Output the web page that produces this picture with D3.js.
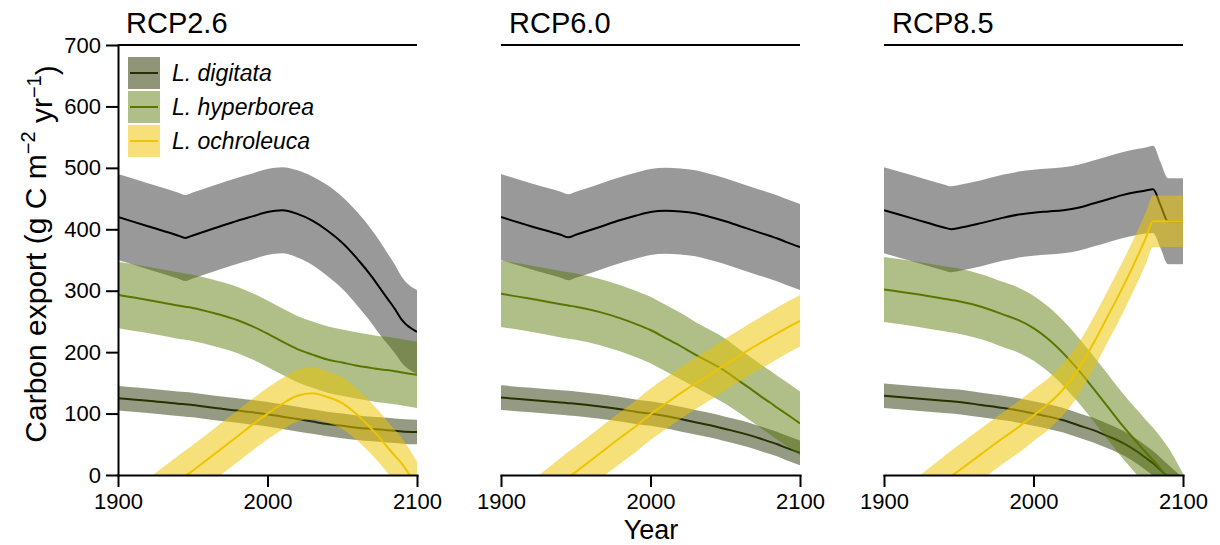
<!DOCTYPE html>
<html>
<head>
<meta charset="utf-8">
<script src="https://cdn.jsdelivr.net/npm/d3@7"></script>
<style>
  body { margin: 0; background: #fff; }
  svg text { font-family: "Liberation Sans", Arial, Helvetica, sans-serif; fill: #000; }
</style>
</head>
<body>
<div id="chart"></div>
<script>
(function(d3) {
  'use strict';

  // ---- data ----
  var years = [1900, 1920, 1940, 1945, 1950, 1965, 1980, 1990, 2000, 2010, 2020, 2030, 2040, 2050, 2060, 2070, 2075, 2080, 2085, 2090, 2100];
  var scenarios = ['RCP2.6', 'RCP6.0', 'RCP8.5'];
  var speciesNames = ['L. digitata', 'L. hyperborea', 'L. ochroleuca'];
  var xTicks = [1900, 2000, 2100];
  var yTicks = [0, 100, 200, 300, 400, 500, 600, 700];

  // RCP2.6
  var rcp26Total      = [420, 405, 390, 386, 390, 402, 414, 421, 428, 431, 425, 414, 398, 378, 352, 322, 305, 288, 271, 252, 233];
  var rcp26TotalCi    = [70, 70, 70, 70, 70, 70, 70, 70, 70, 70, 71, 72, 74, 75, 76, 76, 76, 74, 72, 70, 68];
  var rcp26Digitata   = [125, 121, 116, 115, 114, 109, 105, 102, 99, 95, 91, 87, 83, 80, 77, 75, 74, 73, 72, 71, 70];
  var rcp26DigitataCi = [20, 20, 20, 20, 20, 20, 20, 20, 20, 20, 20, 20, 20, 20, 20, 20, 20, 20, 20, 20, 20];
  var rcp26Hyper      = [293, 285, 276, 274, 272, 263, 252, 242, 230, 217, 205, 196, 188, 183, 178, 174, 172, 171, 169, 167, 163];
  var rcp26HyperCi    = [54, 54, 54, 54, 54, 54, 54, 54, 54, 54, 54, 54, 54, 54, 54, 54, 54, 54, 54, 54, 54];
  var rcp26Ochro      = [-85, -48, -11, -2, 7, 35, 63, 82, 100, 116, 129, 133, 127, 117, 98, 74, 61, 46, 32, 18, -20];
  var rcp26OchroCi    = [42, 42, 42, 42, 42, 42, 42, 42, 42, 42, 42, 42, 42, 42, 42, 42, 42, 42, 42, 42, 42];

  // RCP6.0
  var rcp60Total      = [420, 405, 391, 387, 391, 403, 415, 422, 428, 430, 429, 426, 420, 413, 405, 397, 393, 389, 385, 380, 371];
  var rcp60TotalCi    = [70, 70, 70, 70, 70, 70, 70, 70, 70, 70, 70, 70, 70, 70, 70, 70, 70, 70, 70, 70, 70];
  var rcp60Digitata   = [126, 122, 118, 117, 116, 112, 107, 103, 100, 96, 91, 86, 81, 75, 69, 62, 58, 54, 50, 45, 36];
  var rcp60DigitataCi = [20, 20, 20, 20, 20, 20, 20, 20, 20, 20, 20, 20, 20, 20, 20, 20, 20, 20, 20, 20, 20];
  var rcp60Hyper      = [295, 287, 278, 276, 274, 266, 255, 246, 236, 223, 210, 196, 183, 169, 152, 135, 126, 118, 109, 101, 84];
  var rcp60HyperCi    = [54, 54, 54, 54, 54, 54, 54, 54, 54, 54, 54, 53, 53, 53, 52, 52, 52, 52, 52, 52, 52];
  var rcp60Ochro      = [-90, -52, -14, -4, 5, 33, 61, 79, 99, 116, 133, 149, 164, 180, 195, 210, 217, 224, 231, 238, 251];
  var rcp60OchroCi    = [42, 42, 42, 42, 42, 42, 42, 42, 42, 42, 42, 42, 42, 42, 42, 42, 42, 42, 42, 42, 42];

  // RCP8.5
  var rcp85Total      = [431, 417, 403, 400, 402, 410, 419, 424, 427, 429, 431, 435, 442, 449, 456, 461, 463, 465, 439, 413, 413];
  var rcp85TotalCi    = [70, 70, 70, 70, 70, 70, 70, 70, 70, 70, 70, 70, 70, 70, 70, 70, 70, 71, 70, 70, 70];
  var rcp85Digitata   = [129, 125, 121, 120, 119, 114, 109, 105, 100, 95, 89, 81, 73, 63, 52, 37, 28, 19, 8, -3, -25];
  var rcp85DigitataCi = [20, 20, 20, 20, 20, 20, 20, 20, 20, 20, 20, 20, 20, 20, 20, 20, 20, 20, 20, 20, 20];
  var rcp85Hyper      = [302, 295, 287, 285, 283, 274, 261, 252, 239, 221, 198, 171, 141, 110, 79, 51, 37, 24, 10, -5, -45];
  var rcp85HyperCi    = [53, 53, 53, 53, 53, 53, 53, 53, 53, 53, 53, 53, 53, 53, 53, 53, 53, 53, 52, 50, 47];
  var rcp85Ochro      = [-88, -50, -12, -2, 7, 34, 61, 78, 97, 116, 140, 172, 214, 260, 307, 358, 385, 413, 413, 413, 413];
  var rcp85OchroCi    = [42, 42, 42, 42, 42, 42, 42, 42, 42, 42, 42, 42, 42, 42, 42, 42, 42, 42, 42, 42, 42];

  // line colour, band colour for total + 3 species
  var lineColors = ['#000000', '#263000', '#577700', '#ecc400'];
  var bandColors = ['rgba(0,0,0,0.4)', 'rgba(38,48,0,0.49)', 'rgba(87,119,0,0.47)', 'rgba(236,196,0,0.52)'];
  var legendColors = ['#909478', '#b0bf88', '#f7e07a'];

  var panels = [
    { name: scenarios[0], series: [[rcp26Total, rcp26TotalCi], [rcp26Digitata, rcp26DigitataCi], [rcp26Hyper, rcp26HyperCi], [rcp26Ochro, rcp26OchroCi]] },
    { name: scenarios[1], series: [[rcp60Total, rcp60TotalCi], [rcp60Digitata, rcp60DigitataCi], [rcp60Hyper, rcp60HyperCi], [rcp60Ochro, rcp60OchroCi]] },
    { name: scenarios[2], series: [[rcp85Total, rcp85TotalCi], [rcp85Digitata, rcp85DigitataCi], [rcp85Hyper, rcp85HyperCi], [rcp85Ochro, rcp85OchroCi]] }
  ];

  // ---- layout ----
  var width = 1220, height = 545;
  var left = 118, top = 45;
  var panelW = 299, panelH = 430, panelStep = 383;

  var svg = d3.select('#chart').append('svg')
    .attr('width', width)
    .attr('height', height);

  var x = d3.scaleLinear().domain([1900, 2100]).range([0, panelW]);
  var y = d3.scaleLinear().domain([0, 700]).range([panelH, 0]);

  var area = d3.area()
    .curve(d3.curveMonotoneX)
    .x(function(d) { return x(d.year); })
    .y0(function(d) { return y(d.lo); })
    .y1(function(d) { return y(d.hi); });

  var line = d3.line()
    .curve(d3.curveMonotoneX)
    .x(function(d) { return x(d.year); })
    .y(function(d) { return y(d.mean); });

  panels.forEach(function(p, pi) {
    var g = svg.append('g')
      .attr('transform', 'translate(' + (left + pi * panelStep) + ',' + top + ')');

    var clipId = 'clip' + pi;
    g.append('clipPath').attr('id', clipId)
      .append('rect')
      .attr('width', panelW)
      .attr('height', panelH);

    var plot = g.append('g').attr('clip-path', 'url(#' + clipId + ')');

    p.series.forEach(function(s, si) {
      var pts = years.map(function(yr, i) {
        return { year: yr, mean: s[0][i], lo: s[0][i] - s[1][i], hi: s[0][i] + s[1][i] };
      });
      plot.append('path')
        .datum(pts)
        .attr('d', area)
        .attr('fill', bandColors[si]);
      plot.append('path')
        .datum(pts)
        .attr('d', line)
        .attr('fill', 'none')
        .attr('stroke', lineColors[si])
        .attr('stroke-width', 2);
    });

    // top rule
    g.append('line')
      .attr('x1', 0).attr('x2', panelW)
      .attr('y1', 0).attr('y2', 0)
      .attr('stroke', '#000')
      .attr('stroke-width', 2);

    // x axis
    var xa = g.append('g')
      .attr('transform', 'translate(0,' + panelH + ')')
      .call(d3.axisBottom(x).tickValues(xTicks).tickFormat(d3.format('d'))
        .tickSize(12).tickSizeOuter(0).tickPadding(6));
    xa.selectAll('text').style('font-size', '22px');

    if (pi === 0) {
      var ya = g.append('g')
        .call(d3.axisLeft(y).tickValues(yTicks).tickSize(12).tickSizeOuter(0).tickPadding(5));
      ya.selectAll('text').style('font-size', '22px');
      ya.selectAll('path, line').attr('stroke-width', 2);
    }
    xa.selectAll('path, line').attr('stroke-width', 2);
    g.selectAll('.domain').attr('stroke-linecap', 'square');

    // panel title
    g.append('text')
      .attr('x', 8)
      .attr('y', -12)
      .style('font-size', '29px')
      .text(p.name);
  });

  // legend
  var legend = svg.append('g')
    .attr('transform', 'translate(128,57)');

  var item = legend.selectAll('.legend')
    .data(speciesNames)
    .enter()
    .append('g')
    .attr('class', 'legend')
    .attr('transform', function(d, i) { return 'translate(0,' + (i * 34) + ')'; });

  item.append('rect')
    .attr('width', 32)
    .attr('height', 32)
    .attr('fill', function(d, i) { return legendColors[i]; });

  item.append('line')
    .attr('x1', 2).attr('x2', 30)
    .attr('y1', 16).attr('y2', 16)
    .attr('stroke', function(d, i) { return lineColors[i + 1]; })
    .attr('stroke-width', 2);

  item.append('text')
    .attr('x', 44)
    .attr('y', 24)
    .style('font-size', '23px')
    .style('font-style', 'italic')
    .text(function(d) { return d; });

  // axis titles
  var yLabel = svg.append('text')
    .attr('transform', 'translate(46,254) rotate(-90)')
    .attr('text-anchor', 'middle')
    .style('font-size', '30px');
  yLabel.append('tspan').text('Carbon export (g C m');
  yLabel.append('tspan').attr('dy', '-0.55em').style('font-size', '20px').text('\u22122');
  yLabel.append('tspan').attr('dy', '0.55em').text(' yr');
  yLabel.append('tspan').attr('dy', '-0.55em').style('font-size', '20px').text('\u22121');
  yLabel.append('tspan').attr('dy', '0.55em').text(')');

  svg.append('text')
    .attr('x', 651)
    .attr('y', 539)
    .attr('text-anchor', 'middle')
    .style('font-size', '27px')
    .text('Year');

})(window.d3);
</script>
</body>
</html>
